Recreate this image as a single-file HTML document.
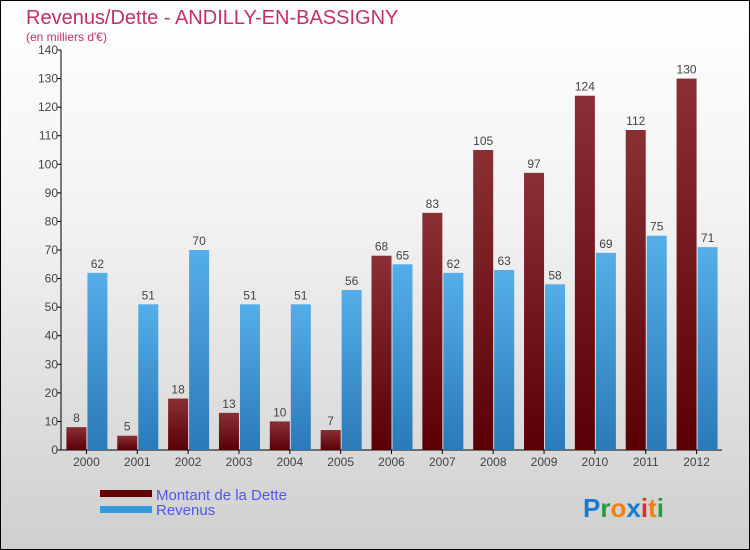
<!DOCTYPE html>
<html><head><meta charset="utf-8"><style>
body{margin:0}
#w{position:relative;width:748px;height:548px;border:1px solid #000;background:linear-gradient(#fff,#f2f2f2 40%,#cfcfcf);font-family:"Liberation Sans",sans-serif;overflow:hidden}
</style></head><body>
<div id="w">
<svg width="748" height="548">
<defs>
<linearGradient id="gd" x1="0" y1="0" x2="0" y2="1"><stop offset="0" stop-color="#8a3035"/><stop offset="1" stop-color="#5a0005"/></linearGradient>
<linearGradient id="gr" x1="0" y1="0" x2="0" y2="1"><stop offset="0" stop-color="#55aee8"/><stop offset="1" stop-color="#2a7ab8"/></linearGradient>
</defs>
<text x="25" y="23" font-size="20" fill="#c0306a">Revenus/Dette - ANDILLY-EN-BASSIGNY</text>
<text x="25" y="40" font-size="12" fill="#c0306a">(en milliers d'€)</text>
<g id="ax"></g><g id="bars"></g>
<rect x="99" y="489" width="52" height="7" fill="#600000"/>
<rect x="99" y="505" width="52" height="7" fill="#3399dd"/>
<text x="155" y="499" font-size="15" fill="#5555ee">Montant de la Dette</text>
<text x="155" y="514" font-size="15" fill="#5555ee">Revenus</text>
<text x="582" y="516" font-size="26" font-weight="bold"><tspan fill="#1a7ad0">P</tspan><tspan fill="#2a9a3a">r</tspan><tspan fill="#f08010">o</tspan><tspan fill="#1a7ad0">x</tspan><tspan fill="#e03020">i</tspan><tspan fill="#f08010">t</tspan><tspan fill="#2a9a3a">i</tspan></text>
</svg></div>
<script>
const categories=["2000","2001","2002","2003","2004","2005","2006","2007","2008","2009","2010","2011","2012"];
const detteValues=[8,5,18,13,10,7,68,83,105,97,124,112,130];
const revenusValues=[62,51,70,51,51,56,65,62,63,58,69,75,71];
const yTicks=[0,10,20,30,40,50,60,70,80,90,100,110,120,130,140];
const NS="http://www.w3.org/2000/svg";
const x0=60,x1=721,y0=449,yTop=49,yMax=140;
const gw=(x1-x0)/categories.length;
const y=v=>y0-(v/yMax)*(y0-yTop);
function mk(t,a,p){const e=document.createElementNS(NS,t);for(const k in a)e.setAttribute(k,a[k]);p.appendChild(e);return e;}
const ax=document.getElementById('ax'),bars=document.getElementById('bars');
let l=mk('line',{x1:x0,y1:yTop,x2:x0,y2:y0,stroke:'#000'},ax);


l=mk('line',{x1:x0,y1:y0,x2:x1,y2:y0,stroke:'#000'},ax);


yTicks.forEach(v=>{
 const t=mk('line',{x1:x0-4,x2:x0,y1:y(v),y2:y(v),stroke:'#000'},ax);
 
 
 const tx=mk('text',{x:x0-3,y:y(v)+4,'font-size':12,fill:'#444','text-anchor':'end'},ax);
 tx.textContent=v;
 
 
});
categories.forEach((c,i)=>{
 const cx=x0+gw*(i+0.5);
 const t=mk('line',{x1:cx,x2:cx,y1:y0,y2:y0+4,stroke:'#000'},ax);
 
 
 const tx=mk('text',{x:cx,y:y0+16,'font-size':12,fill:'#444','text-anchor':'middle'},ax);
 tx.textContent=c;
 
 
 const d=detteValues[i],r=revenusValues[i];
 const b1=mk('rect',{x:cx-20,y:y(d),width:20,height:y0-y(d),fill:'url(#gd)'},bars);
 
 
 const b2=mk('rect',{x:cx+1,y:y(r),width:20,height:y0-y(r),fill:'url(#gr)'},bars);
 
 
 const l1=mk('text',{x:cx-10,y:y(d)-5,'font-size':12,fill:'#444','text-anchor':'middle'},bars);
 l1.textContent=d;
 
 
 const l2=mk('text',{x:cx+11,y:y(r)-5,'font-size':12,fill:'#444','text-anchor':'middle'},bars);
 l2.textContent=r;
 
 
});
</script>
</body></html>
